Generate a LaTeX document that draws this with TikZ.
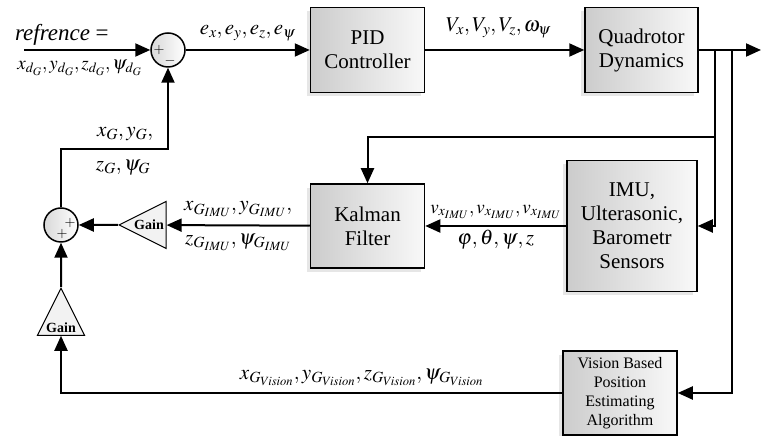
\documentclass[tikz,border=0pt]{standalone}
\usepackage{mathptmx}
\usepackage{fontspec}
\setmainfont{Liberation Serif}
\usetikzlibrary{arrows.meta,positioning,shapes.geometric,shadows}
\tikzstyle{post}=[-{Triangle[length=15pt,width=13pt]},line width=2pt]
\tikzstyle{block}=[draw,line width=1.5pt,left color=gray!40,right color=gray!5,drop shadow={shadow xshift=-4pt,shadow yshift=-4pt,opacity=.2},minimum width=114pt,minimum height=85pt,align=center,font=\fontsize{21}{24}\selectfont]
\tikzstyle{sum}=[draw,circle,line width=1.5pt,minimum size=34pt,inner sep=0pt,left color=gray!30,right color=white]
\tikzstyle{gain}=[draw,isosceles triangle,isosceles triangle stretches,line width=1pt,fill=gray!10,inner sep=0pt,minimum width=47pt,minimum height=47pt,font=\fontsize{14}{14}\selectfont\bfseries]
\tikzstyle{sign}=[inner sep=0pt,font=\fontsize{14}{14}\selectfont]
\tikzstyle{lbl}=[font=\fontsize{21}{24}\selectfont]

\begin{document}
\begin{tikzpicture}[x=1pt,y=1pt,node distance=2cm]
\useasboundingbox (0,0) rectangle (761,436);
\node (sum1) [sum] at (168,386) {};
\node (pid) [block] [right=124pt of sum1] {PID\\Controller};
\node (quad) [block,minimum width=113pt] [right=159pt of pid] {Quadrotor\\Dynamics};
\node (kal) [block,minimum height=84pt] [below=90pt of pid] {Kalman\\Filter};
\node (imu) [block,minimum width=130pt,minimum height=131pt] [right=141pt of kal] {IMU,\\Ulterasonic,\\Barometr\\Sensors};
\node (vision) [block,minimum height=84pt,font=\fontsize{16}{19}\selectfont] at (620,43) {Vision Based\\Position\\Estimating\\Algorithm};
\node (g1) [gain,shape border rotate=180] at (149,211) {Gain};
\node (sum2) [sum] at (61,211) {};
\node (g2) [gain,shape border rotate=90] at (61,108) {Gain};

\node [sign] at ([xshift=-9pt]sum1.center) {$+$};
\node [sign] at ([xshift=2pt,yshift=-11pt]sum1.center) {$-$};
\node [sign] at ([xshift=9pt,yshift=2pt]sum2.center) {$+$};
\node [sign] at ([xshift=1pt,yshift=-9pt]sum2.center) {$+$};

\coordinate (ref) at (24,386);
\coordinate (out) at (761,386);
\coordinate (b1) at (715,386);
\coordinate (b2) at (732,386);
\coordinate (b3) at (715,299);
\coordinate (fb) at (168,287);

\draw[post] (ref) -- node[lbl,above,pos=.3,font=\fontsize{23}{26}\selectfont] {\textit{refrence} =} node[lbl,below,pos=.44,yshift=-6pt,font=\fontsize{19}{22}\selectfont] {$x_{d_G},y_{d_G},z_{d_G},\psi_{d_G}$} (sum1);
\draw[post] (sum1) -- node[lbl,above,yshift=5pt] {$e_x,e_y,e_z,e_\psi$} (pid);
\draw[post] (pid) -- node[lbl,above,pos=.46,yshift=8pt] {$V_x,V_y,V_z,\omega_\psi$} (quad);
\draw[post] (quad) -- (out);
\draw[post] (b1) |- (imu.east);
\draw[post] (b3) -| (kal.north);
\draw[post] (b2) |- (vision.east);
\draw[post] (imu) -- node[lbl,above,yshift=3pt,font=\fontsize{19}{22}\selectfont] {$v_{x_{\scriptscriptstyle IMU}},v_{x_{\scriptscriptstyle IMU}},v_{x_{\scriptscriptstyle IMU}}$} node[lbl,below] {$\varphi,\theta,\psi,z$} (kal);
\draw[post] (kal) -- node[lbl,above,yshift=4pt] {$x_{G_{IMU}},y_{G_{IMU}},$} node[lbl,below,yshift=-4pt] {$z_{G_{IMU}},\psi_{G_{IMU}}$} (g1);
\draw[post] (g1) -- (sum2);
\draw[post] (sum2) |- node[lbl,above,pos=.8,yshift=4pt] {$x_G,y_G,$} node[lbl,below,pos=.79,yshift=-7pt] {$z_G,\psi_G$} (fb) -- (sum1);
\draw[post] (vision) -| node[lbl,above,pos=.2,yshift=3pt] {$x_{G_{Vision}},y_{G_{Vision}},z_{G_{Vision}},\psi_{G_{Vision}}$} (g2);
\draw[post] (g2) -- (sum2);
\end{tikzpicture}
\end{document}
